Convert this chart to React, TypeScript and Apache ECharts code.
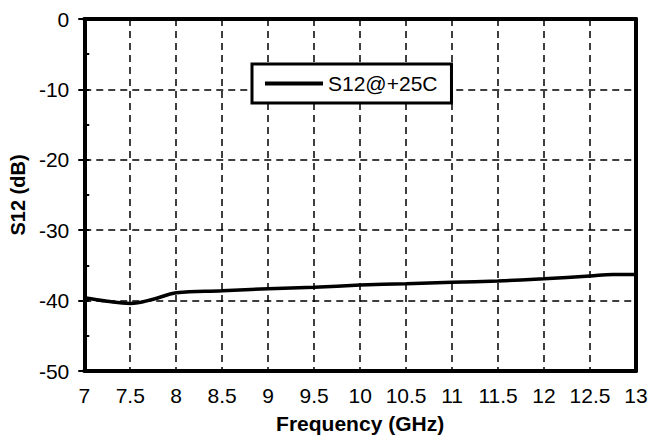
import React, { useEffect, useRef } from "react";
import * as echarts from "echarts";

const freq = [7, 7.25, 7.5, 7.75, 8, 8.5, 9, 9.5, 10, 10.5, 11, 11.5, 12, 12.5, 12.75, 13];
const s12 = [-39.6, -40.1, -40.4, -39.8, -38.9, -38.6, -38.3, -38.1, -37.8, -37.6, -37.4, -37.2, -36.9, -36.5, -36.3, -36.3];
const seriesName = "S12@+25C";
const xTitle = "Frequency (GHz)";
const yTitle = "S12 (dB)";

export default function App() {
  const ref = useRef<HTMLDivElement>(null);
  useEffect(() => {
    const chart = echarts.init(ref.current!, undefined, { renderer: "svg" });
    const font = "'Liberation Sans', Arial, sans-serif";
    const dashed = { type: [7, 5] as any, color: "#000", width: 1.5 };
    chart.setOption({
      animation: false,
      backgroundColor: "#fff",
      grid: { left: 83, right: 16, top: 19, bottom: 70 },
      legend: {
        left: 252,
        top: 64,
        padding: [9, 14, 9, 13],
        borderColor: "#000",
        borderWidth: 3,
        backgroundColor: "#fff",
        itemWidth: 58,
        itemHeight: 4,
        itemStyle: { color: "#000" },
        textStyle: { fontFamily: font, fontSize: 21, color: "#000" },
        data: [{ name: seriesName, icon: "rect" }],
      },
      xAxis: [
        {
          type: "value",
          min: 7,
          max: 13,
          interval: 0.5,
          axisLine: { onZero: false, lineStyle: { color: "#000", width: 4 } },
          axisTick: { show: false },
          axisLabel: { color: "#000", fontFamily: font, fontSize: 21, margin: 14, formatter: (v: number) => String(v) },
          splitLine: { show: true, lineStyle: dashed },
          name: xTitle,
          nameLocation: "middle",
          nameGap: 42,
          nameTextStyle: { fontFamily: font, fontSize: 21, fontWeight: "bold", color: "#000" },
        },
        {
          type: "value",
          position: "top",
          min: 7,
          max: 13,
          interval: 0.5,
          axisLine: { lineStyle: { color: "#000", width: 4 } },
          axisTick: { show: false },
          axisLabel: { show: false },
          splitLine: { show: false },
        },
      ],
      yAxis: [
        {
          type: "value",
          min: -50,
          max: 0,
          interval: 10,
          axisLine: { onZero: false, lineStyle: { color: "#000", width: 4 } },
          axisTick: { show: true, inside: false, length: 6, lineStyle: { color: "#000", width: 2 } },
          axisLabel: { color: "#000", fontFamily: font, fontSize: 21, margin: 15 },
          splitLine: { show: true, lineStyle: dashed },
          name: yTitle,
          nameLocation: "middle",
          nameGap: 54,
          nameTextStyle: { fontFamily: font, fontSize: 20, fontWeight: "bold", color: "#000" },
        },
        {
          type: "value",
          position: "left",
          min: -50,
          max: 0,
          interval: 5,
          axisLine: { show: false },
          axisTick: { show: true, inside: true, length: 5, lineStyle: { color: "#000", width: 2 } },
          axisLabel: { show: false },
          splitLine: { show: false },
        },
        {
          type: "value",
          position: "right",
          min: -50,
          max: 0,
          interval: 10,
          axisLine: { show: true, lineStyle: { color: "#000", width: 4 } },
          axisTick: { show: false },
          axisLabel: { show: false },
          splitLine: { show: false },
        },
      ],
      series: [
        {
          name: seriesName,
          type: "line",
          xAxisIndex: 0,
          yAxisIndex: 0,
          smooth: 0.4,
          symbol: "none",
          lineStyle: { color: "#000", width: 3.5 },
          itemStyle: { color: "#000" },
          data: freq.map((f, i) => [f, s12[i]]),
        },
      ],
    });
    return () => chart.dispose();
  }, []);
  return <div ref={ref} style={{ width: 652, height: 441, position: "absolute", left: 0, top: 0 }} />;
}
